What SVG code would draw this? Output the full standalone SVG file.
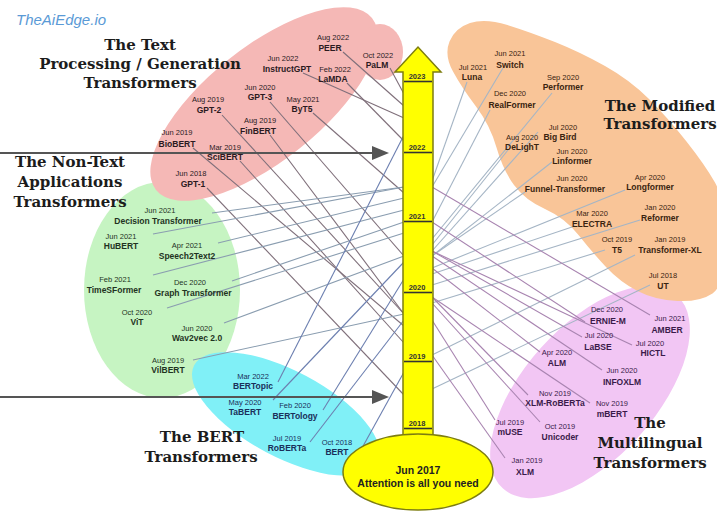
<svg xmlns="http://www.w3.org/2000/svg" width="717" height="511" viewBox="0 0 717 511">
<style>
.d{font-family:"Liberation Sans",Arial,sans-serif;font-size:7.5px;text-anchor:middle}
.n{font-family:"Liberation Sans",Arial,sans-serif;font-size:8.5px;font-weight:bold;text-anchor:middle}
.t{font-family:"DejaVu Serif","Liberation Serif",serif;font-size:15px;font-weight:bold;text-anchor:middle;fill:#1c1c1c}
.pk text{fill:#2b1a1f}.gr text{fill:#1f331f}.cy text{fill:#1a2f5a}.or text{fill:#3a2410}.pu text{fill:#3a1a4a}
.cp line{stroke:#7f6f7a}.cg line{stroke:#8a9db0}.cc line{stroke:#6c7fb0}.co line{stroke:#a5b5c5}.cu line{stroke:#a884b0}
#connectors line{stroke-width:1.1}
.yr{font-family:"Liberation Sans",Arial,sans-serif;font-size:7.5px;font-weight:bold;text-anchor:middle;fill:#333}
.tick{stroke:#333;stroke-width:1.6}
.arr{stroke:#555;stroke-width:2}
.big{font-family:"Liberation Sans",Arial,sans-serif;font-size:10.5px;font-weight:bold;text-anchor:middle;fill:#222}
</style>
<rect width="717" height="511" fill="#fff"/>
<g id="blobs">
<ellipse cx="162" cy="290" rx="78" ry="108" fill="#c6f4c2"/>
<ellipse cx="264" cy="104" rx="138" ry="57" transform="rotate(-38.5 264 104)" fill="#f5b8b6"/>
<ellipse cx="380" cy="52" rx="23" ry="28" fill="#f5b8b6"/>
<ellipse cx="286" cy="414" rx="104" ry="43" transform="rotate(28 286 414)" fill="#80f0f7"/>
<ellipse cx="590" cy="392" rx="130" ry="66" transform="rotate(-48 590 392)" fill="#f2c6f4"/>
<path fill="#f9c598" d="M449.5,41.5 Q455,28 470,23 Q485,18 507.5,25 Q530,32 555,42 Q580,52 605,66 Q630,80 649,99 Q668,118 686.5,141.5 Q705,165 715,182.5 Q725,200 725,242.5 Q725,285 712.5,293.5 Q700,302 677.5,301 Q655,300 637.5,291 Q620,282 606,267 Q592,252 578.5,235 Q565,218 545,209 Q525,200 514,185 Q503,170 496.5,147.5 Q490,125 476,106.5 Q462,88 453,71.5 Q444,55 449.5,41.5 Z"/>
</g>
<g id="connectors">
<g class="cp">
<line x1="343" y1="52" x2="404" y2="106"/>
<line x1="390" y1="68" x2="404" y2="94"/>
<line x1="303" y1="73" x2="404" y2="118"/>
<line x1="347" y1="83" x2="404" y2="141"/>
<line x1="270" y1="102" x2="404" y2="256"/>
<line x1="313" y1="113" x2="404" y2="193"/>
<line x1="222" y1="115" x2="404" y2="314"/>
<line x1="270" y1="135" x2="404" y2="314"/>
<line x1="193" y1="148" x2="404" y2="326"/>
<line x1="240" y1="161" x2="404" y2="343"/>
<line x1="207" y1="188" x2="404" y2="395"/>
</g>
<g class="cg">
<line x1="212" y1="213" x2="404" y2="187"/>
<line x1="153" y1="234" x2="404" y2="187"/>
<line x1="218" y1="243" x2="404" y2="198"/>
<line x1="153" y1="275" x2="404" y2="210"/>
<line x1="232" y1="281" x2="404" y2="222"/>
<line x1="167" y1="308" x2="404" y2="233"/>
<line x1="224" y1="323" x2="404" y2="256"/>
<line x1="193" y1="360" x2="404" y2="314"/>
</g>
<g class="cc">
<line x1="278" y1="382" x2="404" y2="135"/>
<line x1="273" y1="400" x2="404" y2="262"/>
<line x1="323" y1="410" x2="404" y2="279"/>
<line x1="310" y1="442" x2="404" y2="320"/>
<line x1="362" y1="448" x2="404" y2="372"/>
</g>
<g class="co">
<line x1="467" y1="82" x2="432" y2="181"/>
<line x1="503" y1="68" x2="432" y2="187"/>
<line x1="490" y1="110" x2="432" y2="222"/>
<line x1="552" y1="93" x2="432" y2="239"/>
<line x1="508" y1="150" x2="432" y2="245"/>
<line x1="538" y1="132" x2="432" y2="251"/>
<line x1="552" y1="162" x2="432" y2="256"/>
<line x1="525" y1="192" x2="432" y2="256"/>
<line x1="625" y1="190" x2="432" y2="268"/>
<line x1="575" y1="226" x2="432" y2="274"/>
<line x1="640" y1="220" x2="432" y2="285"/>
<line x1="605" y1="250" x2="432" y2="303"/>
<line x1="635" y1="255" x2="432" y2="355"/>
<line x1="650" y1="285" x2="432" y2="389"/>
</g>
<g class="cu">
<line x1="585" y1="322" x2="432" y2="222"/>
<line x1="650" y1="315" x2="432" y2="187"/>
<line x1="582" y1="337" x2="432" y2="251"/>
<line x1="632" y1="345" x2="432" y2="251"/>
<line x1="540" y1="352" x2="432" y2="268"/>
<line x1="602" y1="370" x2="432" y2="256"/>
<line x1="528" y1="395" x2="432" y2="297"/>
<line x1="590" y1="403" x2="432" y2="297"/>
<line x1="495" y1="420" x2="432" y2="320"/>
<line x1="540" y1="422" x2="432" y2="303"/>
<line x1="505" y1="458" x2="432" y2="355"/>
</g>
</g>
<g id="arrows">
<line class="arr" x1="0" y1="153" x2="376" y2="153"/>
<polygon points="372,146 389,153 372,160" fill="#555"/>
<line class="arr" x1="0" y1="397" x2="376" y2="397"/>
<polygon points="372,390 389,397 372,404" fill="#555"/>
</g>
<g id="timeline">
<path d="M403,445 L403,72 L395,72 L418,47 L441,72 L433,72 L433,445 Z" fill="#ffff00" stroke="#7d7d10" stroke-width="1.5"/>
<text class="yr" x="417" y="79">2023</text><line class="tick" x1="404" y1="81.5" x2="432" y2="81.5"/>
<text class="yr" x="417" y="150">2022</text><line class="tick" x1="404" y1="152.5" x2="432" y2="152.5"/>
<text class="yr" x="417" y="219">2021</text><line class="tick" x1="404" y1="221.5" x2="432" y2="221.5"/>
<text class="yr" x="417" y="290">2020</text><line class="tick" x1="404" y1="292.5" x2="432" y2="292.5"/>
<text class="yr" x="417" y="359">2019</text><line class="tick" x1="404" y1="361.5" x2="432" y2="361.5"/>
<text class="yr" x="417" y="426">2018</text><line class="tick" x1="404" y1="428.5" x2="432" y2="428.5"/>
</g>
<g id="origin">
<ellipse cx="418" cy="472" rx="75" ry="38" fill="#ffff00" stroke="#7d7d10" stroke-width="1.5"/>
<text class="big" x="418" y="474">Jun 2017</text>
<text class="big" x="418" y="487">Attention is all you need</text>
</g>
<g id="titles">
<text x="16" y="25" font-family="Liberation Sans, Arial, sans-serif" font-size="15" font-style="italic" fill="#5a9ad6">TheAiEdge.io</text>
<text class="t" x="140" y="50">The Text</text>
<text class="t" x="140" y="69">Processing / Generation</text>
<text class="t" x="140" y="88">Transformers</text>
<text class="t" x="70" y="167">The Non-Text</text>
<text class="t" x="70" y="187">Applications</text>
<text class="t" x="70" y="207">Transformers</text>
<text class="t" x="660" y="111">The Modified</text>
<text class="t" x="660" y="129">Transformers</text>
<text class="t" x="202" y="442">The BERT</text>
<text class="t" x="201" y="462">Transformers</text>
<text class="t" x="650" y="428">The</text>
<text class="t" x="650" y="448">Multilingual</text>
<text class="t" x="650" y="468">Transformers</text>
</g>
<g id="text-models" class="pk">
<g id="peer"><text class="d" x="333" y="40">Aug 2022</text><text class="n" x="330" y="51">PEER</text></g>
<g id="palm"><text class="d" x="378" y="58">Oct 2022</text><text class="n" x="377" y="68">PaLM</text></g>
<g id="instructgpt"><text class="d" x="283" y="61">Jun 2022</text><text class="n" x="287" y="72">InstructGPT</text></g>
<g id="lamda"><text class="d" x="335" y="72">Feb 2022</text><text class="n" x="333" y="82">LaMDA</text></g>
<g id="gpt3"><text class="d" x="260" y="90">Jun 2020</text><text class="n" x="260" y="100">GPT-3</text></g>
<g id="byt5"><text class="d" x="303" y="102">May 2021</text><text class="n" x="302" y="112">ByT5</text></g>
<g id="gpt2"><text class="d" x="208" y="102">Aug 2019</text><text class="n" x="209" y="113">GPT-2</text></g>
<g id="finbert"><text class="d" x="260" y="123">Aug 2019</text><text class="n" x="258" y="134">FinBERT</text></g>
<g id="biobert"><text class="d" x="177" y="135">Jun 2019</text><text class="n" x="177" y="147">BioBERT</text></g>
<g id="scibert"><text class="d" x="225" y="150">Mar 2019</text><text class="n" x="225" y="160">SciBERT</text></g>
<g id="gpt1"><text class="d" x="191" y="176">Jun 2018</text><text class="n" x="193" y="187">GPT-1</text></g>
</g>
<g id="nontext-models" class="gr">
<g id="decision"><text class="d" x="160" y="213">Jun 2021</text><text class="n" x="158" y="224">Decision Transformer</text></g>
<g id="hubert"><text class="d" x="121" y="239">Jun 2021</text><text class="n" x="121" y="249">HuBERT</text></g>
<g id="speech2text2"><text class="d" x="187" y="248">Apr 2021</text><text class="n" x="187" y="259">Speech2Text2</text></g>
<g id="timesformer"><text class="d" x="115" y="282">Feb 2021</text><text class="n" x="114" y="293">TimeSFormer</text></g>
<g id="graph"><text class="d" x="190" y="285">Dec 2020</text><text class="n" x="193" y="296">Graph Transformer</text></g>
<g id="vit"><text class="d" x="137" y="315">Oct 2020</text><text class="n" x="137" y="325">ViT</text></g>
<g id="wav2vec"><text class="d" x="197" y="331">Jun 2020</text><text class="n" x="197" y="341">Wav2vec 2.0</text></g>
<g id="vilbert"><text class="d" x="168" y="363">Aug 2019</text><text class="n" x="168" y="373">VilBERT</text></g>
</g>
<g id="bert-models" class="cy">
<g id="bertopic"><text class="d" x="253" y="379">Mar 2022</text><text class="n" x="253" y="389">BERTopic</text></g>
<g id="tabert"><text class="d" x="245" y="405">May 2020</text><text class="n" x="245" y="415">TaBERT</text></g>
<g id="bertology"><text class="d" x="295" y="408">Feb 2020</text><text class="n" x="295" y="419">BERTology</text></g>
<g id="roberta"><text class="d" x="287" y="441">Jul 2019</text><text class="n" x="287" y="451">RoBERTa</text></g>
<g id="bert"><text class="d" x="337" y="445">Oct 2018</text><text class="n" x="337" y="455">BERT</text></g>
</g>
<g id="modified-models" class="or">
<g id="luna"><text class="d" x="473" y="70">Jul 2021</text><text class="n" x="472" y="80">Luna</text></g>
<g id="switch"><text class="d" x="510" y="56">Jun 2021</text><text class="n" x="510" y="68">Switch</text></g>
<g id="realformer"><text class="d" x="510" y="96">Dec 2020</text><text class="n" x="512" y="108">RealFormer</text></g>
<g id="performer"><text class="d" x="563" y="80">Sep 2020</text><text class="n" x="563" y="90">Performer</text></g>
<g id="delight"><text class="d" x="522" y="140">Aug 2020</text><text class="n" x="522" y="150">DeLighT</text></g>
<g id="bigbird"><text class="d" x="563" y="130">Jul 2020</text><text class="n" x="560" y="140">Big Bird</text></g>
<g id="linformer"><text class="d" x="572" y="154">Jun 2020</text><text class="n" x="572" y="164">Linformer</text></g>
<g id="funnel"><text class="d" x="572" y="181">Jun 2020</text><text class="n" x="565" y="192">Funnel-Transformer</text></g>
<g id="longformer"><text class="d" x="650" y="180">Apr 2020</text><text class="n" x="650" y="190">Longformer</text></g>
<g id="electra"><text class="d" x="592" y="216">Mar 2020</text><text class="n" x="592" y="227">ELECTRA</text></g>
<g id="reformer"><text class="d" x="660" y="210">Jan 2020</text><text class="n" x="660" y="221">Reformer</text></g>
<g id="t5"><text class="d" x="617" y="242">Oct 2019</text><text class="n" x="617" y="253">T5</text></g>
<g id="transformerxl"><text class="d" x="670" y="242">Jan 2019</text><text class="n" x="670" y="253">Transformer-XL</text></g>
<g id="ut"><text class="d" x="663" y="278">Jul 2018</text><text class="n" x="663" y="289">UT</text></g>
</g>
<g id="multilingual-models" class="pu">
<g id="erniem"><text class="d" x="607" y="312">Dec 2020</text><text class="n" x="608" y="324">ERNIE-M</text></g>
<g id="amber"><text class="d" x="670" y="321">Jun 2021</text><text class="n" x="667" y="333">AMBER</text></g>
<g id="labse"><text class="d" x="599" y="338">Jul 2020</text><text class="n" x="598" y="350">LaBSE</text></g>
<g id="hictl"><text class="d" x="650" y="346">Jul 2020</text><text class="n" x="653" y="356">HICTL</text></g>
<g id="alm"><text class="d" x="557" y="355">Apr 2020</text><text class="n" x="557" y="366">ALM</text></g>
<g id="infoxlm"><text class="d" x="622" y="373">Jun 2020</text><text class="n" x="622" y="385">INFOXLM</text></g>
<g id="xlmr"><text class="d" x="555" y="396">Nov 2019</text><text class="n" x="555" y="406">XLM-RoBERTa</text></g>
<g id="mbert"><text class="d" x="612" y="406">Nov 2019</text><text class="n" x="612" y="417">mBERT</text></g>
<g id="muse"><text class="d" x="510" y="425">Jul 2019</text><text class="n" x="510" y="435">mUSE</text></g>
<g id="unicoder"><text class="d" x="560" y="429">Oct 2019</text><text class="n" x="560" y="440">Unicoder</text></g>
<g id="xlm"><text class="d" x="527" y="463">Jan 2019</text><text class="n" x="525" y="475">XLM</text></g>
</g>
</svg>
